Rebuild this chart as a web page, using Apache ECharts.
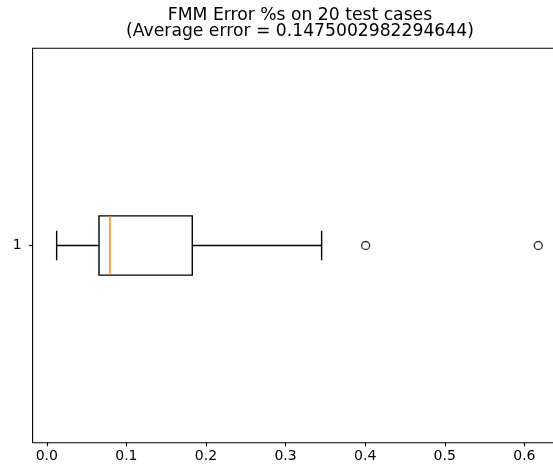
<!DOCTYPE html>
<html lang="en">
	<head>
		<meta charset="UTF-8">
		<title>FMM Error boxplot</title>
		<script src="https://cdn.jsdelivr.net/npm/echarts@6/dist/echarts.min.js"></script>
		<style>
			html, body { margin: 0; padding: 0; background: #fff; }
			#chart { width: 553px; height: 470px; }
		</style>
	</head>
	<body>
		<div id="chart"></div>
		<script type="text/javascript">
			// box stats: low whisker, Q1, median, Q3, high whisker
			var categories = ['1'];
			var boxStats = [[0.0124, 0.0656, 0.0794, 0.1828, 0.3453]];
			var outliers = [0.4006, 0.6175];
			var xTicks = [0, 0.1, 0.2, 0.3, 0.4, 0.5, 0.6];

			var font = 'DejaVu Sans';
			var boxData = boxStats.map(function (s, i) { return [i + 1].concat(s); });
			var outlierData = outliers.map(function (v) { return [v, 1]; });

			var dom = document.getElementById('chart');
			var myChart = echarts.init(dom, null, {renderer: 'canvas'});
			var option = {
				animation: false,
				title: {
					text: 'FMM Error %s on 20 test cases\n(Average error = 0.1475002982294644)',
					left: 295,
					top: 3,
					textAlign: 'center',
					textStyle: {fontFamily: font, fontSize: 17.2, fontWeight: 'normal', color: '#000', lineHeight: 16}
				},
				grid: {
					left: 32.6, top: 48.3, width: 529.8, height: 394.4,
					show: true, borderColor: '#000', borderWidth: 1.1,
					outerBoundsMode: 'none'
				},
				xAxis: {
					type: 'value',
					min: -0.0178, max: 0.6478,
					splitLine: {show: false},
					axisLine: {show: false, onZero: false},
					axisTick: {show: true, inside: false, length: 3.5, customValues: xTicks, lineStyle: {color: '#000', width: 1.1}},
					axisLabel: {
						customValues: xTicks, margin: 7,
						fontFamily: font, fontSize: 14, color: '#000',
						formatter: function (v) { return v.toFixed(1); }
					}
				},
				yAxis: {
					type: 'value',
					min: 0.5, max: 1.5,
					inverse: true,
					splitLine: {show: false},
					axisLine: {show: false, onZero: false},
					axisTick: {show: true, inside: false, length: 3.5, customValues: [1], lineStyle: {color: '#000', width: 1.1}},
					axisLabel: {
						customValues: [1], margin: 11,
						fontFamily: font, fontSize: 14, color: '#000',
						formatter: function (v) { return categories[Math.round(v) - 1]; }
					}
				},
				series: [
					{
						type: 'custom',
						data: boxData,
						renderItem: function (params, api) {
							var pos = api.value(0);
							var lo = api.coord([api.value(1), pos]);
							var q1 = api.coord([api.value(2), pos]);
							var md = api.coord([api.value(3), pos]);
							var q3 = api.coord([api.value(4), pos]);
							var hi = api.coord([api.value(5), pos]);
							var half = api.size([0, 0.15])[1] / 2;
							var cap = half / 2;
							var ls = {stroke: '#000', lineWidth: 1.4, fill: null};
							return {
								type: 'group',
								children: [
									{type: 'line', shape: {x1: lo[0], y1: lo[1], x2: q1[0], y2: q1[1]}, style: ls},
									{type: 'line', shape: {x1: q3[0], y1: q3[1], x2: hi[0], y2: hi[1]}, style: ls},
									{type: 'line', shape: {x1: lo[0], y1: lo[1] - cap, x2: lo[0], y2: lo[1] + cap}, style: ls},
									{type: 'line', shape: {x1: hi[0], y1: hi[1] - cap, x2: hi[0], y2: hi[1] + cap}, style: ls},
									{type: 'rect', shape: {x: q1[0], y: q1[1] - half, width: q3[0] - q1[0], height: half * 2}, style: ls},
									{type: 'line', shape: {x1: md[0], y1: md[1] - half, x2: md[0], y2: md[1] + half}, style: {stroke: '#ff7f0e', lineWidth: 1.4}}
								]
							};
						}
					},
					{
						type: 'scatter',
						data: outlierData,
						symbol: 'circle',
						symbolSize: 8,
						itemStyle: {color: 'rgba(0,0,0,0)', borderColor: '#000', borderWidth: 1.3}
					}
				]
			};
			myChart.setOption(option, true);
		</script>
	</body>
</html>
